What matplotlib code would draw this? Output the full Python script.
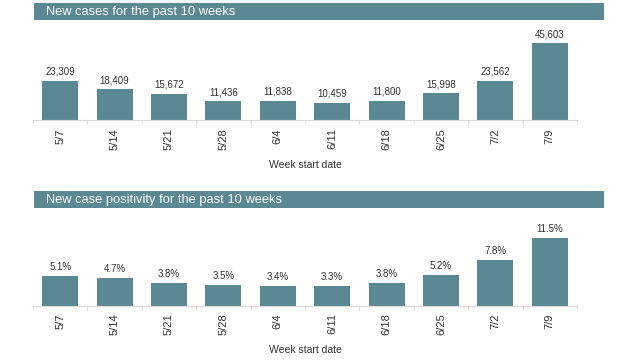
import matplotlib.pyplot as plt
from matplotlib.patches import Rectangle
from matplotlib.ticker import FixedLocator

plt.rcParams['font.family'] = ['Liberation Sans', 'DejaVu Sans']

weeks = ['5/7', '5/14', '5/21', '5/28', '6/4', '6/11', '6/18', '6/25', '7/2', '7/9']
new_cases = [23309, 18409, 15672, 11436, 11838, 10459, 11800, 15998, 23562, 45603]
positivity = [5.1, 4.7, 3.8, 3.5, 3.4, 3.3, 3.8, 5.2, 7.8, 11.5]

bar_color = '#5a8893'
head_color = '#5a8893'
text_color = '#333333'
axis_gray = '#d9d9d9'

fig = plt.figure(figsize=(6.4, 3.6), dpi=100)


def header(y_bottom, title):
    fig.patches.append(Rectangle((0.053, y_bottom), 0.891, 0.0472,
                                 transform=fig.transFigure, facecolor=head_color,
                                 edgecolor='none'))
    fig.text(0.072, y_bottom + 0.0236, title, color='white', fontsize=9.3,
             va='center', ha='left')


def panel(rect, values, ymax, labels):
    ax = fig.add_axes(rect)
    x = range(len(values))
    bars = ax.bar(x, values, width=0.66, color=bar_color)
    for b, lab in zip(bars, labels):
        ax.annotate(lab, (b.get_x() + b.get_width() / 2, b.get_height()),
                    xytext=(0, 3), textcoords='offset points',
                    ha='center', va='bottom', fontsize=7, color=text_color)
    ax.set_xlim(-0.5, len(values) - 0.5)
    ax.set_ylim(0, ymax)
    for s in ['top', 'right', 'left']:
        ax.spines[s].set_visible(False)
    ax.spines['bottom'].set_color(axis_gray)
    ax.set_yticks([])
    ax.set_xticks(list(x))
    ax.set_xticklabels(weeks, rotation=90, fontsize=8, color=text_color)
    ax.tick_params(axis='x', which='major', length=0, pad=5.5)
    ax.xaxis.set_minor_locator(FixedLocator([i - 0.5 for i in range(len(values) + 1)]))
    ax.tick_params(axis='x', which='minor', length=3, color=axis_gray)
    ax.set_xlabel('Week start date', fontsize=7.5, color=text_color, labelpad=7)
    return ax


header(0.9444, 'New cases for the past 10 weeks')
panel([0.0516, 0.6653, 0.85, 0.2653], new_cases, 56560,
      [f'{v:,}' for v in new_cases])

header(0.4222, 'New case positivity for the past 10 weeks')
panel([0.0516, 0.1508, 0.85, 0.252], positivity, 15.48,
      [f'{v:.1f}%' for v in positivity])

fig.savefig('out.png', dpi=100)
